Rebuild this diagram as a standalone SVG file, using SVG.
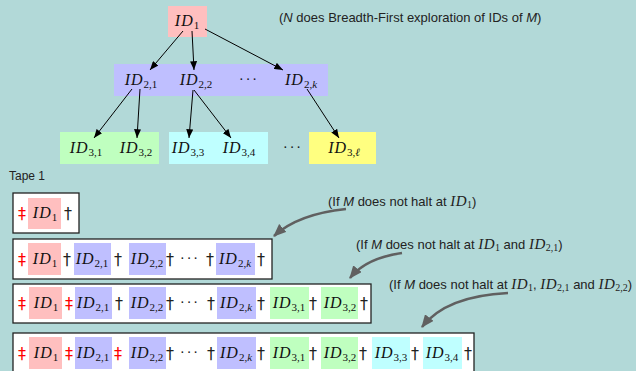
<svg xmlns="http://www.w3.org/2000/svg" width="636" height="371" viewBox="0 0 636 371">
<defs>
<style>
.bg{fill:#b2d9d8}
.pink{fill:#ffbfbf}
.purple{fill:#bfbfff}
.green{fill:#bfffbf}
.cyan{fill:#bfffff}
.yellow{fill:#ffff80}
.tape{fill:#fff;stroke:#222;stroke-width:1.3}
.id{font-family:"Liberation Serif","DejaVu Serif",serif;font-style:italic;font-size:16px;fill:#111;text-anchor:middle;letter-spacing:1px}
.sub{font-size:11px;font-style:normal;letter-spacing:0}
.subi{font-size:11px;letter-spacing:0}
.lbl{font-family:"Liberation Sans",Arial,sans-serif;font-size:13px;fill:#222}
.tp{font-size:12px}
.lbl .m{font-style:italic}
.lbl .mid{font-family:"Liberation Serif",serif;font-style:italic;font-size:15px;letter-spacing:0.5px}
.lbl .ms{font-family:"Liberation Serif",serif;font-size:10px}
.dag{font-family:"DejaVu Sans",sans-serif;font-size:16px;fill:#222;text-anchor:middle}
.ddag{font-family:"DejaVu Sans",sans-serif;font-size:16px;fill:#f00;text-anchor:middle}
.dots{font-family:"Liberation Serif",serif;font-size:14px;fill:#111;text-anchor:middle;letter-spacing:2px}
.edge{stroke:#000;stroke-width:1;fill:none;marker-end:url(#ah)}
.curve{stroke:#606060;stroke-width:2.5;fill:none;marker-end:url(#gh)}
</style>
<marker id="ah" viewBox="0 0 10 8" refX="10" refY="4" markerWidth="9" markerHeight="7" markerUnits="userSpaceOnUse" orient="auto">
<path d="M0,0 L10,4 L0,8 z" fill="#000"/>
</marker>
<marker id="gh" viewBox="0 0 12 10" refX="11" refY="5" markerWidth="13" markerHeight="11" markerUnits="userSpaceOnUse" orient="auto">
<path d="M0,0 L12,5 L0,10 z" fill="#606060"/>
</marker>
</defs>
<rect class="bg" x="0" y="0" width="636" height="371"/>

<!-- tree nodes -->
<g id="id1"><rect class="pink" x="168" y="6" width="39" height="31"/><text class="id" x="187" y="26">ID<tspan class="sub" dy="3">1</tspan></text></g>
<g id="level2"><rect class="purple" x="114" y="64" width="214" height="32"/></g>
<g id="id21"><text class="id" x="141" y="85">ID<tspan class="sub" dy="3">2,1</tspan></text></g>
<g id="id22"><text class="id" x="196" y="85">ID<tspan class="sub" dy="3">2,2</tspan></text></g>
<g id="dots2"><text class="dots" x="249" y="84">···</text></g>
<g id="id2k"><text class="id" x="301" y="85">ID<tspan class="sub" dy="3">2,</tspan><tspan class="subi">k</tspan></text></g>
<g id="level3a"><rect class="green" x="60" y="132" width="99" height="32"/></g>
<g id="id31"><text class="id" x="86" y="153">ID<tspan class="sub" dy="3">3,1</tspan></text></g>
<g id="id32"><text class="id" x="136" y="153">ID<tspan class="sub" dy="3">3,2</tspan></text></g>
<g id="level3b"><rect class="cyan" x="169" y="132" width="99" height="32"/></g>
<g id="id33"><text class="id" x="188" y="153">ID<tspan class="sub" dy="3">3,3</tspan></text></g>
<g id="id34"><text class="id" x="239" y="153">ID<tspan class="sub" dy="3">3,4</tspan></text></g>
<g id="dots3"><text class="dots" x="293" y="152">···</text></g>
<g id="id3l"><rect class="yellow" x="309" y="132" width="67" height="32"/><text class="id" x="344" y="153">ID<tspan class="sub" dy="3">3,</tspan><tspan class="subi">ℓ</tspan></text></g>

<!-- connectors -->
<g id="connectors">
<path class="edge" d="M183,31 L150,70"/>
<path class="edge" d="M192,31 L194,70"/>
<path class="edge" d="M205,29 L283,70"/>
<path class="edge" d="M132,89 L94,138"/>
<path class="edge" d="M140,89 L137,138"/>
<path class="edge" d="M193,90 L189,138"/>
<path class="edge" d="M194,90 L231,138"/>
<path class="edge" d="M307,89 L339,138"/>
<path class="curve" d="M346,209 Q298,214 274,236"/>
<path class="curve" d="M402,253 Q366,258 350,278"/>
<path class="curve" d="M508,293 Q446,296 422,327"/>
</g>

<!-- labels -->
<text class="lbl" x="279" y="22">(<tspan class="m">N</tspan> does Breadth-First exploration of IDs of <tspan class="m">M</tspan>)</text>
<text class="lbl tp" x="9" y="180">Tape 1</text>
<text class="lbl" x="328" y="206">(If <tspan class="m">M</tspan> does not halt at <tspan class="mid">ID</tspan><tspan class="ms" dy="2">1</tspan><tspan dy="-2">)</tspan></text>
<text class="lbl" x="356" y="249">(If <tspan class="m">M</tspan> does not halt at <tspan class="mid">ID</tspan><tspan class="ms" dy="2">1</tspan><tspan dy="-2"> and </tspan><tspan class="mid">ID</tspan><tspan class="ms" dy="2">2,1</tspan><tspan dy="-2">)</tspan></text>
<text class="lbl" x="389" y="289">(If <tspan class="m">M</tspan> does not halt at <tspan class="mid">ID</tspan><tspan class="ms" dy="2">1</tspan><tspan dy="-2">, </tspan><tspan class="mid">ID</tspan><tspan class="ms" dy="2">2,1</tspan><tspan dy="-2"> and </tspan><tspan class="mid">ID</tspan><tspan class="ms" dy="2">2,2</tspan><tspan dy="-2">)</tspan></text>

<!-- tape row 1 -->
<g id="tape-row1">
<rect class="tape" x="13" y="193" width="66" height="40"/>
<text class="ddag" x="22" y="219">‡</text>
<rect class="pink" x="28" y="198" width="33" height="31"/>
<text class="id" x="45" y="218">ID<tspan class="sub" dy="3">1</tspan></text>
<text class="dag" x="68" y="219">†</text>
</g>

<!-- tape row 2 -->
<g id="tape-row2">
<rect class="tape" x="13" y="239" width="259" height="40"/>
<text class="ddag" x="22" y="265">‡</text>
<rect class="pink" x="28" y="243" width="33" height="32"/>
<text class="id" x="45" y="264">ID<tspan class="sub" dy="3">1</tspan></text>
<text class="dag" x="67" y="265">†</text>
<rect class="purple" x="74" y="243" width="37" height="32"/>
<text class="id" x="92" y="264">ID<tspan class="sub" dy="3">2,1</tspan></text>
<text class="dag" x="118" y="265">†</text>
<rect class="purple" x="129" y="243" width="37" height="32"/>
<text class="id" x="147" y="264">ID<tspan class="sub" dy="3">2,2</tspan></text>
<text class="dag" x="170" y="265">†</text>
<text class="dots" x="190" y="263">···</text>
<text class="dag" x="210" y="265">†</text>
<rect class="purple" x="216" y="243" width="39" height="32"/>
<text class="id" x="235" y="264">ID<tspan class="sub" dy="3">2,</tspan><tspan class="subi">k</tspan></text>
<text class="dag" x="261" y="265">†</text>
</g>

<!-- tape row 3 -->
<g id="tape-row3">
<rect class="tape" x="13" y="284" width="358" height="39"/>
<text class="ddag" x="22" y="309">‡</text>
<rect class="pink" x="29" y="287" width="33" height="32"/>
<text class="id" x="46" y="308">ID<tspan class="sub" dy="3">1</tspan></text>
<text class="ddag" x="69" y="309">‡</text>
<rect class="purple" x="75" y="287" width="37" height="32"/>
<text class="id" x="93" y="308">ID<tspan class="sub" dy="3">2,1</tspan></text>
<text class="dag" x="119" y="309">†</text>
<rect class="purple" x="129" y="287" width="37" height="32"/>
<text class="id" x="147" y="308">ID<tspan class="sub" dy="3">2,2</tspan></text>
<text class="dag" x="170" y="309">†</text>
<text class="dots" x="190" y="307">···</text>
<text class="dag" x="211" y="309">†</text>
<rect class="purple" x="217" y="287" width="39" height="32"/>
<text class="id" x="236" y="308">ID<tspan class="sub" dy="3">2,</tspan><tspan class="subi">k</tspan></text>
<text class="dag" x="261" y="309">†</text>
<rect class="green" x="270" y="287" width="39" height="32"/>
<text class="id" x="289" y="308">ID<tspan class="sub" dy="3">3,1</tspan></text>
<text class="dag" x="313" y="309">†</text>
<rect class="green" x="321" y="287" width="37" height="32"/>
<text class="id" x="340" y="308">ID<tspan class="sub" dy="3">3,2</tspan></text>
<text class="dag" x="364" y="309">†</text>
</g>

<!-- tape row 4 -->
<g id="tape-row4">
<rect class="tape" x="13" y="333" width="461" height="42"/>
<text class="ddag" x="22" y="359">‡</text>
<rect class="pink" x="29" y="337" width="33" height="32"/>
<text class="id" x="46" y="358">ID<tspan class="sub" dy="3">1</tspan></text>
<text class="ddag" x="69" y="359">‡</text>
<rect class="purple" x="75" y="337" width="37" height="32"/>
<text class="id" x="93" y="358">ID<tspan class="sub" dy="3">2,1</tspan></text>
<text class="ddag" x="118" y="359">‡</text>
<rect class="purple" x="129" y="337" width="37" height="32"/>
<text class="id" x="147" y="358">ID<tspan class="sub" dy="3">2,2</tspan></text>
<text class="dag" x="170" y="359">†</text>
<text class="dots" x="190" y="357">···</text>
<text class="dag" x="211" y="359">†</text>
<rect class="purple" x="217" y="337" width="39" height="32"/>
<text class="id" x="236" y="358">ID<tspan class="sub" dy="3">2,</tspan><tspan class="subi">k</tspan></text>
<text class="dag" x="261" y="359">†</text>
<rect class="green" x="270" y="337" width="39" height="32"/>
<text class="id" x="289" y="358">ID<tspan class="sub" dy="3">3,1</tspan></text>
<text class="dag" x="313" y="359">†</text>
<rect class="green" x="321" y="337" width="37" height="32"/>
<text class="id" x="340" y="358">ID<tspan class="sub" dy="3">3,2</tspan></text>
<text class="dag" x="363" y="359">†</text>
<rect class="cyan" x="372" y="337" width="38" height="32"/>
<text class="id" x="391" y="358">ID<tspan class="sub" dy="3">3,3</tspan></text>
<text class="dag" x="415" y="359">†</text>
<rect class="cyan" x="423" y="337" width="39" height="32"/>
<text class="id" x="442" y="358">ID<tspan class="sub" dy="3">3,4</tspan></text>
<text class="dag" x="468" y="359">†</text>
</g>
</svg>
